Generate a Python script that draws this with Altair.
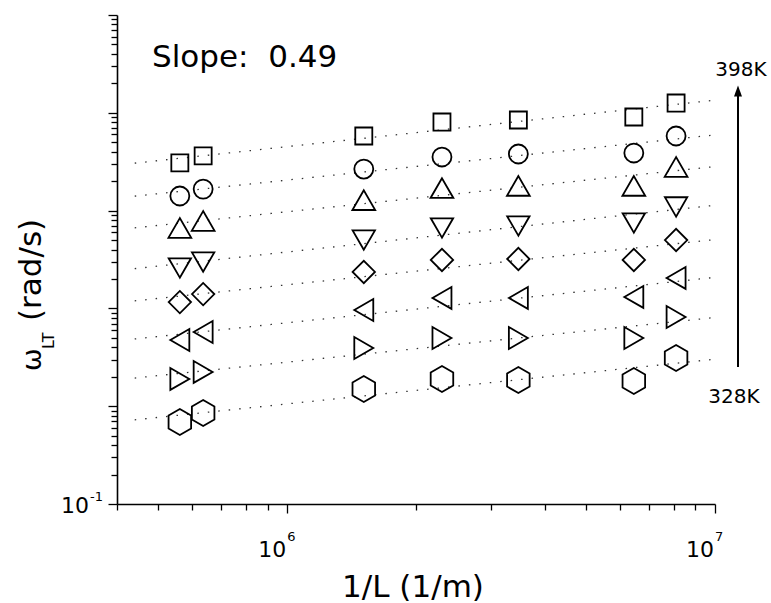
import altair as alt
import pandas as pd

# ---- data ----
inv_L = [5.61e5, 6.36e5, 1.51e6, 2.30e6, 3.47e6, 6.46e6, 8.11e6]
temps = ["398K", "388K", "378K", "368K", "358K", "348K", "338K", "328K"]
w_398 = [307, 362, 579, 805, 844, 906, 1259]
w_388 = [141, 166, 266, 353, 379, 388, 579]
w_378 = [66.4, 78.3, 128, 170, 179, 179, 279]
w_368 = [25.9, 29.8, 50.0, 66.4, 69.6, 74.7, 109]
w_358 = [11.6, 14.0, 23.6, 31.3, 32.0, 31.3, 50.0]
w_348 = [4.75, 5.74, 9.63, 12.8, 12.8, 13.1, 20.5]
w_338 = [1.90, 2.24, 3.94, 4.98, 4.98, 4.98, 8.17]
w_328 = [0.689, 0.851, 1.50, 1.90, 1.85, 1.81, 3.11]
series = [w_398, w_388, w_378, w_368, w_358, w_348, w_338, w_328]

x_ticks = [4e5, 5e5, 6e5, 7e5, 8e5, 9e5, 1e6, 2e6, 3e6, 4e6, 5e6, 6e6, 7e6, 8e6, 9e6, 1e7]
y_ticks = [m * 10.0 ** k for k in range(-1, 4) for m in range(1, 10)] + [1e4]
x_label_vals = [1e6, 1e7]
x_label_exp = ["6", "7"]
y_label_vals = [0.1]
y_label_exp = ["-1"]

HEX = "M0,-1.2L1.04,-0.6L1.04,0.6L0,1.2L-1.04,0.6L-1.04,-0.6Z"
shapes = ["square", "circle", "triangle-up", "triangle-down", "diamond",
          "triangle-left", "triangle-right", HEX]
sym_sizes = [290, 360, 520, 500, 500, 480, 480, 470]

rows = []
for t, vals in zip(temps, series):
    for xv, yv in zip(inv_L, vals):
        rows.append({"x": xv, "y": yv, "T": t})
df = pd.DataFrame(rows)

W, H = 598, 489
L0, T0 = 117, 15
FONT = "DejaVu Sans"

xscale = alt.Scale(type="log", domain=[4e5, 1e7], nice=False)
yscale = alt.Scale(type="log", domain=[0.1, 1e4], nice=False)

x_axis = alt.Axis(
    values=x_ticks, labels=False,
    tickSize={"condition": {"test": "datum.value == 1000000 || datum.value == 10000000", "value": 9}, "value": 6},
    grid=False, title=None,
)
y_axis = alt.Axis(
    values=y_ticks, labels=False,
    tickSize={"condition": {"test": "abs(log(datum.value)/LN10 - round(log(datum.value)/LN10)) < 0.001", "value": 9}, "value": 6},
    grid=False, title=None,
)

base = alt.Chart(df)

fits = base.transform_regression(
    "x", "y", method="pow", groupby=["T"], extent=[4.4e5, 1e7]
).mark_line(strokeDash=[1.5, 9], strokeWidth=1.3, color="#333333", clip=True).encode(
    x=alt.X("x:Q", scale=xscale, axis=x_axis),
    y=alt.Y("y:Q", scale=yscale, axis=y_axis),
    detail="T:N",
)

point_layers = []
for t, shp, sz in zip(temps, shapes, sym_sizes):
    point_layers.append(
        base.transform_filter(alt.datum.T == t).mark_point(
            shape=shp, size=sz, filled=False, color="black", strokeWidth=1.8, opacity=1
        ).encode(
            x=alt.X("x:Q", scale=xscale, axis=x_axis),
            y=alt.Y("y:Q", scale=yscale, axis=y_axis),
        )
    )

# tick labels with superscripts
xl = pd.DataFrame({"v": x_label_vals, "e": x_label_exp})
x_lab_base = alt.Chart(xl).mark_text(
    text="10", font=FONT, fontSize=22, color="black", align="right", baseline="alphabetic", dx=-1
).encode(x=alt.X("v:Q", scale=xscale), y=alt.value(557 - T0))
x_lab_exp = alt.Chart(xl).mark_text(
    font=FONT, fontSize=13, color="black", align="left", baseline="alphabetic", dx=0
).encode(x=alt.X("v:Q", scale=xscale), y=alt.value(541 - T0), text="e:N")

yl = pd.DataFrame({"v": y_label_vals, "e": y_label_exp})
y_lab_base = alt.Chart(yl).mark_text(
    text="10", font=FONT, fontSize=22, color="black", align="right", baseline="alphabetic", dy=9
).encode(y=alt.Y("v:Q", scale=yscale), x=alt.value(89 - L0))
y_lab_exp = alt.Chart(yl).mark_text(
    font=FONT, fontSize=13, color="black", align="left", baseline="alphabetic", dy=-3
).encode(y=alt.Y("v:Q", scale=yscale), x=alt.value(90 - L0), text="e:N")

one = pd.DataFrame({"a": [0]})


def txt(text, px, py, size, angle=0, align="left"):
    kw = dict(text=text, font=FONT, fontSize=size, color="black", align=align, baseline="alphabetic")
    if angle:
        kw["angle"] = angle
    return alt.Chart(one).mark_text(**kw).encode(
        x=alt.value(px - L0), y=alt.value(py - T0)
    )


slope = txt("Slope:\u00a0\u00a00.49", 152, 67, 31)
xtitle = txt("1/L (1/m)", 413, 597, 31, align="center")
yt1 = txt("ω", 41, 371, 27, angle=270)
yt2 = txt("LT", 54, 349, 16, angle=270)
yt3 = txt("(rad/s)", 41, 321, 31, angle=270)
k398 = txt("398K", 741, 76, 20, align="center")
k328 = txt("328K", 734, 403, 20, align="center")

arrow_line = alt.Chart(one).mark_rule(color="black", strokeWidth=2).encode(
    x=alt.value(738 - L0), y=alt.value(367 - T0), y2=alt.value(96 - T0)
)
arrow_head = alt.Chart(one).mark_point(
    shape="M0,-1.3L0.8,0.9L-0.8,0.9Z", filled=True, color="black", size=100, opacity=1
).encode(x=alt.value(738 - L0), y=alt.value(92 - T0))

chart = alt.layer(
    fits, *point_layers, x_lab_base, x_lab_exp, y_lab_base, y_lab_exp,
    slope, xtitle, yt1, yt2, yt3, k398, k328, arrow_line, arrow_head
).properties(
    width=W, height=H,
    autosize=alt.AutoSizeParams(type="none"),
    padding={"left": L0, "top": T0, "right": 771 - L0 - W, "bottom": 603 - T0 - H},
).configure_view(stroke=None).configure_axis(
    domainColor="black", domainWidth=1.6, tickColor="black", tickWidth=1.3,
)

chart.save("out.html", embed_options={"renderer": "svg", "actions": False})
